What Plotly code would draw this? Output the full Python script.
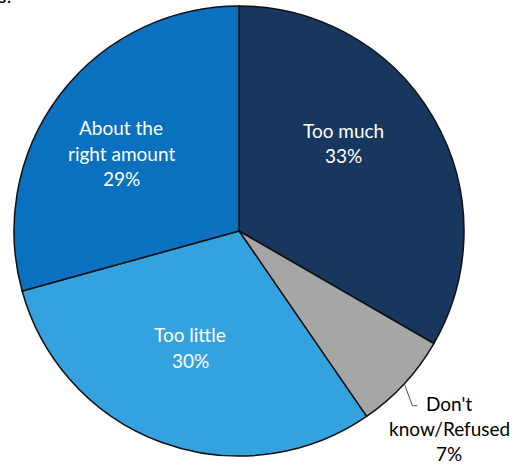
import math
import plotly.graph_objects as go

# Survey responses
labels = ["Too much", "Don't know/Refused", "Too little", "About the right amount"]
values = [33, 7, 30, 29]
colors = ["#17375E", "#A6A6A6", "#35A2E0", "#0A70C0"]

W, H = 514, 466
ML, MR, MT, MB = 14, 50, 6, 10
PW, PH = W - ML - MR, H - MT - MB
CX, CY = ML + PW / 2, MT + PH / 2
R = min(PW, PH) / 2
LINE = 25  # pixel spacing between label lines


def px(x):
    return (x - ML) / PW


def py(y):
    return (H - MB - y) / PH


FONT = dict(family="Lato, 'Open Sans', sans-serif", size=19)

fig = go.Figure(
    go.Pie(
        labels=labels,
        values=values,
        sort=False,
        direction="clockwise",
        rotation=0,
        marker=dict(colors=colors, line=dict(color="#111111", width=1.5)),
        textinfo="none",
        hoverinfo="label+percent",
        showlegend=False,
    )
)

# label placement (pixel centre of the first line) and colour for each slice
label_pos = {
    "Too much": (343, 130, "white"),
    "Don't know/Refused": (449, 403, "black"),
    "Too little": (190, 335, "white"),
    "About the right amount": (121, 128, "white"),
}
label_lines = {
    "Too much": ["Too much"],
    "Don't know/Refused": ["Don't", "know/Refused"],
    "Too little": ["Too little"],
    "About the right amount": ["About the", "right amount"],
}

annotations = []
for lab, val in zip(labels, values):
    x, y, c = label_pos[lab]
    for i, line in enumerate(label_lines[lab] + [f"{val}%"]):
        annotations.append(
            dict(
                x=px(x), y=py(y + i * LINE), xref="paper", yref="paper",
                text=line, showarrow=False, font=dict(FONT, color=c),
                xanchor="center", yanchor="middle", align="center",
                borderpad=0,
            )
        )

# clipped heading fragment at the top edge
annotations.append(
    dict(x=px(-3), y=py(8), xref="paper", yref="paper", text="<b>s?</b>",
         showarrow=False, xanchor="left", yanchor="bottom",
         font=dict(family="Lato, sans-serif", size=16, color="black"))
)

# leader line for the small slice, starting at the slice's outer edge midpoint
total = sum(values)
start = sum(values[:1]) / total * 360
end = sum(values[:2]) / total * 360
mid = math.radians((start + end) / 2)
ex, ey = CX + R * math.sin(mid), CY - R * math.cos(mid)
path = f"M {px(ex)},{py(ey)} L {px(ex + 8)},{py(ey + 22)} L {px(ex + 13)},{py(ey + 22)}"

fig.update_layout(
    width=W, height=H,
    margin=dict(l=ML, r=MR, t=MT, b=MB),
    paper_bgcolor="white", plot_bgcolor="white",
    annotations=annotations,
    shapes=[dict(type="path", xref="paper", yref="paper", path=path,
                 line=dict(color="#44546A", width=1))],
)

fig.write_html("out.html")
